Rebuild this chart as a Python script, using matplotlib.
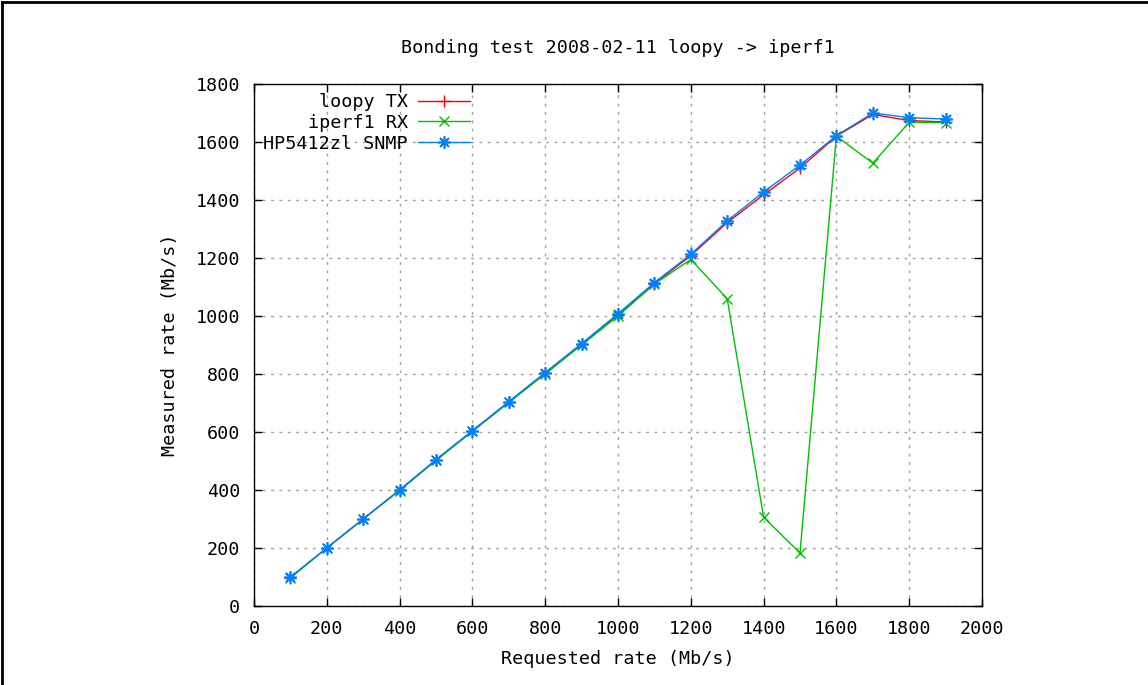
import numpy as np
import matplotlib.pyplot as plt
from matplotlib.lines import Line2D

# 请求速率 (Mb/s)
requested = [100, 200, 300, 400, 500, 600, 700, 800, 900, 1000,
             1100, 1200, 1300, 1400, 1500, 1600, 1700, 1800, 1900]
loopy_tx = [98, 200, 300, 400, 503, 603, 703, 803, 903, 1003,
            1112, 1208, 1322, 1418, 1510, 1620, 1695, 1674, 1669]
iperf1_rx = [97, 200, 300, 398, 502, 602, 702, 800, 900, 1000,
             1110, 1195, 1060, 306, 183, 1620, 1527, 1668, 1667]
hp_snmp = [100, 200, 300, 400, 505, 605, 705, 805, 905, 1008,
           1115, 1213, 1328, 1428, 1520, 1622, 1700, 1684, 1679]

xticks = list(range(0, 2001, 200))
yticks = list(range(0, 1801, 200))

plt.rcParams['font.family'] = ['DejaVu Sans Mono']
fs = 13.2

fig = plt.figure(figsize=(11.48, 6.85), dpi=100)
ax = fig.add_axes([254 / 1148, 1 - 606 / 685, (982 - 254) / 1148, (606 - 84) / 685])

# 图片外边框(只有上边和左边)
fig.add_artist(Line2D([0.002, 1], [0.997, 0.997], color='black', lw=2, transform=fig.transFigure))
fig.add_artist(Line2D([0.002, 0.002], [0, 0.997], color='black', lw=2, transform=fig.transFigure))

ax.plot(requested, loopy_tx, color='#ff0000', lw=1, marker='+', ms=9, mew=1, label='loopy TX')
ax.plot(requested, iperf1_rx, color='#00c000', lw=1, marker='x', ms=7, mew=1, label='iperf1 RX')
ax.plot(requested, hp_snmp, color='#0080ff', lw=1, marker=(8, 2, 0), ms=9, mew=1.2, label='HP5412zl SNMP')

ax.set_xlim(0, 2000)
ax.set_ylim(0, 1800)
ax.set_xticks(xticks)
ax.set_yticks(yticks)
ax.grid(True, color='#a0a0a0', linestyle=(0, (2, 4)), lw=1)
ax.tick_params(direction='in', length=6, width=1, top=True, right=True, labelsize=fs, pad=10)
for s in ax.spines.values():
    s.set_linewidth(1)
    s.set_color('black')

ax.set_title('Bonding test 2008-02-11 loopy -> iperf1', fontsize=fs, pad=22)
ax.set_xlabel('Requested rate (Mb/s)', fontsize=fs, labelpad=9)
ax.set_ylabel('Measured rate (Mb/s)', fontsize=fs, labelpad=12)

leg = ax.legend(loc='upper left', bbox_to_anchor=(0.0, 1.0), frameon=False, markerfirst=False,
                fontsize=fs, handlelength=2.84, labelspacing=0.15, handletextpad=0.55,
                borderaxespad=0.1)

fig.savefig('out.png', dpi=100)
